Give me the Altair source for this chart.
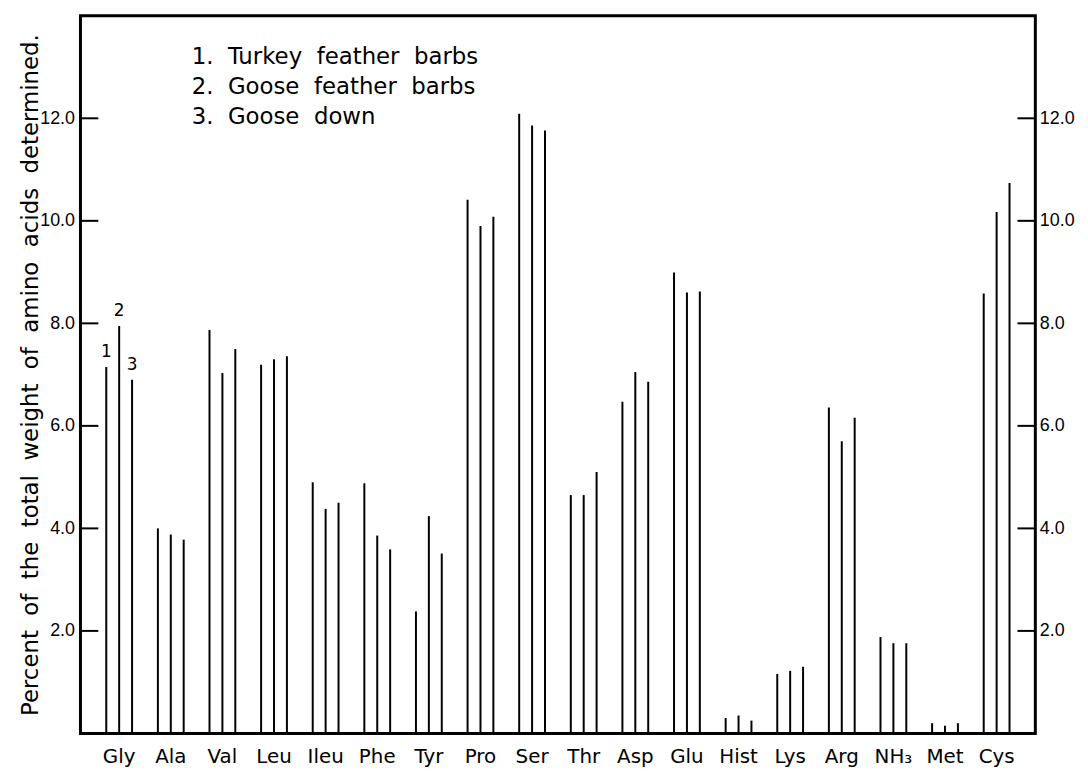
import altair as alt
import pandas as pd

amino = ["Gly", "Ala", "Val", "Leu", "Ileu", "Phe", "Tyr", "Pro", "Ser",
         "Thr", "Asp", "Glu", "Hist", "Lys", "Arg", "NH₃", "Met", "Cys"]
turkey_barbs = [7.15, 4.00, 7.87, 7.19, 4.90, 4.88, 2.38, 10.41, 12.09,
                4.65, 6.47, 8.99, 0.30, 1.16, 6.36, 1.88, 0.20, 8.58]
goose_barbs = [7.95, 3.88, 7.03, 7.30, 4.38, 3.86, 4.24, 9.90, 11.86,
               4.65, 7.05, 8.60, 0.35, 1.22, 5.70, 1.76, 0.15, 10.17]
goose_down = [6.90, 3.78, 7.50, 7.36, 4.50, 3.59, 3.51, 10.08, 11.76,
              5.10, 6.86, 8.62, 0.25, 1.30, 6.16, 1.76, 0.20, 10.74]
series_keys = ["1", "2", "3"]
NB = "\u00a0"
legend_lines = [f"1.{NB} Turkey{NB} feather{NB} barbs",
                f"2.{NB} Goose{NB} feather{NB} barbs",
                f"3.{NB} Goose{NB} down"]
y_title_words = ["Percent", "of", "the", "total", "weight", "of", "amino", "acids", "determined."]
tick_values = [2, 4, 6, 8, 10, 12]

rows = []
for key, vals in zip(series_keys, [turkey_barbs, goose_barbs, goose_down]):
    for a, v in zip(amino, vals):
        rows.append({"amino": a, "series": key, "value": v})
df = pd.DataFrame(rows)
ticks_df = pd.DataFrame({"t": tick_values})
legend_df = pd.DataFrame({"line": legend_lines, "i": [0, 1, 2]})
y_title = (f"{NB} ").join(y_title_words)

FONT = "DejaVu Sans"
NUMFONT = "Liberation Sans"
W, H = 962, 723

xscale = alt.Scale(domain=amino, paddingInner=0, paddingOuter=0.25)
offscale = alt.Scale(type="point", padding=1.48, domain=series_keys)
yscale = alt.Scale(domain=[0, 14], nice=False)

X = alt.X("amino:N", scale=xscale, sort=amino,
          axis=alt.Axis(title=None, ticks=False, domain=False, labelAngle=0,
                        labelFontSize=20, labelPadding=13, labelFont=FONT,
                        labelColor="black"))
XO = alt.XOffset("series:N", scale=offscale)

bars = alt.Chart(df).mark_rule(color="black", strokeWidth=2).encode(
    x=X,
    xOffset=XO,
    y=alt.Y("value:Q", scale=yscale,
            axis=alt.Axis(orient="left", values=tick_values, format=".1f",
                          domain=False, ticks=False, grid=False,
                          labelFontSize=18, labelPadding=6, labelFont=NUMFONT,
                          labelColor="black",
                          title=y_title,
                          titleFont=FONT, titleFontSize=23, titleFontWeight="normal",
                          titleColor="black", titleX=-50, titleY=H / 2,
                          titleBaseline="middle", titleAlign="center")),
    y2=alt.datum(0),
)

right_ticks = alt.Chart(ticks_df).mark_rule(color="black", strokeWidth=2).encode(
    y=alt.Y("t:Q", scale=yscale,
            axis=alt.Axis(orient="right", values=tick_values, format=".1f",
                          domain=False, ticks=False, grid=False,
                          labelFontSize=18, labelPadding=4, labelFont=NUMFONT,
                          labelColor="black", title=None)),
    x=alt.value(W - 18), x2=alt.value(W),
)

left_ticks = alt.Chart(ticks_df).mark_rule(color="black", strokeWidth=2).encode(
    y=alt.Y("t:Q", scale=yscale, axis=None),
    x=alt.value(0), x2=alt.value(18),
)

gly = df[df["amino"] == "Gly"]
bar_labels = alt.Chart(gly).mark_text(font=FONT, fontSize=17, baseline="bottom",
                                      dy=-6, color="black").encode(
    x=X,
    xOffset=XO,
    y=alt.Y("value:Q", scale=yscale, axis=None),
    text="series:N",
)

legend = alt.Chart(legend_df).mark_text(font=FONT, fontSize=23, align="left",
                                        baseline="alphabetic", color="black").encode(
    x=alt.value(112),
    y=alt.Y("i:Q", scale=alt.Scale(domain=[0, 2], range=[49, 109]), axis=None),
    text="line:N",
)

chart = alt.layer(bars, right_ticks, left_ticks, bar_labels, legend).resolve_axis(
    y="independent"
).resolve_scale(y="independent").properties(
    width=W, height=H, autosize="none", background="white",
    padding={"left": 73, "top": 5, "right": 45, "bottom": 34},
).configure_view(stroke="black", strokeWidth=3)

chart.save("out.html", embed_options={"renderer": "svg", "actions": False})
